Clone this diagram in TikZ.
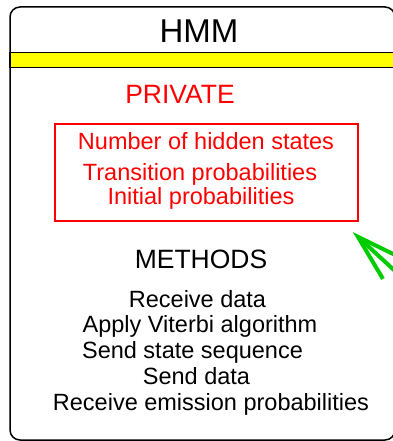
\documentclass[tikz,border=0pt]{standalone}
\usepackage{fontspec}
\setmainfont{Liberation Sans}
\usetikzlibrary{arrows.meta}
\definecolor{bandyellow}{RGB}{255,255,0}
\definecolor{arrowgreen}{RGB}{0,204,0}
\tikzset{
	headlbl/.style={anchor=base,inner sep=0pt,font=\fontsize{33bp}{36bp}\selectfont},
	sectionlbl/.style={anchor=base,inner sep=0pt,font=\fontsize{26.5bp}{30bp}\selectfont},
	itemlbl/.style={anchor=base,inner sep=0pt,font=\fontsize{23.5bp}{26bp}\selectfont}
}

\begin{document}
\begin{tikzpicture}[x=1bp,y=-1bp]
	    \useasboundingbox (0,0) rectangle (392,441);
	    \draw[line width=1.5bp,rounded corners=10bp] (10,7) rectangle (395,440);
	    \filldraw[fill=bandyellow,draw=black,line width=1.3bp] (10,52.5) rectangle (395,67.5);
	    \node[headlbl] (title) at (199,43) {HMM};
	    \node[sectionlbl,red] (private) at (180,104) {PRIVATE};
	    \draw[red,line width=1.3bp] (55,124) rectangle (358,221);
	    \node[itemlbl,red] (states) at (206,150) {Number of hidden states};
	    \node[itemlbl,red] (trans) at (200,181) {Transition probabilities};
	    \node[itemlbl,red] (init) at (201,205) {Initial probabilities};
	    \node[sectionlbl] (methods) at (201,268) {METHODS};
	    \node[itemlbl] (recv) at (197.5,307) {Receive data};
	    \node[itemlbl] (viterbi) at (200,332) {Apply Viterbi algorithm};
	    \node[itemlbl] (sendseq) at (192.5,358.5) {Send state sequence};
	    \node[itemlbl] (senddata) at (196.5,384) {Send data};
	    \node[itemlbl] (emission) at (211,410) {Receive emission probabilities};
	    \coordinate (arrowtip) at (352.7,232);
	    \coordinate (arrowtail) at (420,294);
	    \draw[arrowgreen,line width=4bp,-{Straight Barb[length=47bp,width=28bp]}] (arrowtail) -- (arrowtip);
	\end{tikzpicture}
\end{document}
